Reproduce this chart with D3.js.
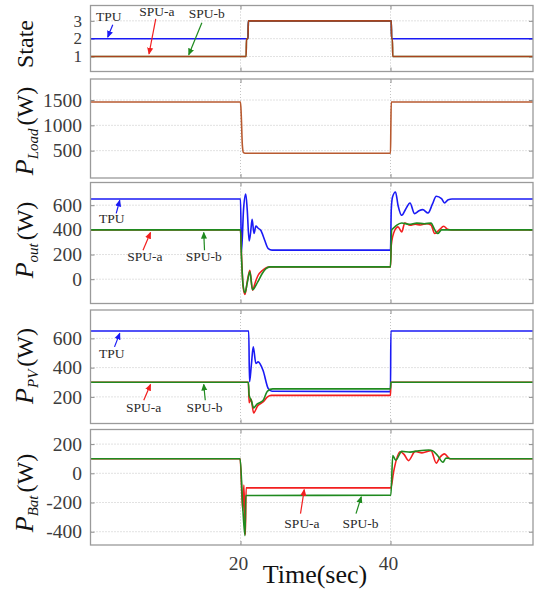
<!DOCTYPE html>
<html>
<head>
<meta charset="utf-8">
<script src="https://cdn.jsdelivr.net/npm/d3@7"></script>
<style>
  body { margin: 0; background: #fff; }
  svg { display: block; font-family: "Liberation Serif", "Times New Roman", serif; }
</style>
</head>
<body>
<svg id="chart" width="538" height="593"></svg>
<script>
// tick values
var timeTicks = [20, 40];
var stateTicks = [1, 2, 3];
var loadTicks = [500, 1000, 1500];
var outTicks = [0, 200, 400, 600];
var pvTicks = [200, 400, 600];
var batTicks = [-400, -200, 0, 200];

// series, [time (sec), value]
var stateTPU = [[0, 2], [21.0, 2], [21.05, 3], [40.1, 3], [40.15, 2], [59, 2]];
var stateSPUa = [[0, 1], [20.75, 1], [20.8, 2], [21.0, 2], [21.05, 3], [40.1, 3], [40.15, 2], [40.25, 2], [40.3, 1], [59, 1]];
var stateSPUb = [[0, 1], [20.75, 1], [20.8, 2], [21.0, 2], [21.05, 3], [40.1, 3], [40.15, 2], [40.25, 2], [40.3, 1], [59, 1]];

var pLoad = [[0, 1460], [20.0, 1460], [20.1, 1200], [20.25, 600], [20.4, 460], [20.6, 450], [40.0, 450], [40.05, 1000], [40.1, 1460], [59, 1460]];

var pOutTPU = [[0, 650], [20.0, 650], [20.13, 220], [20.4, 560], [20.7, 690], [20.9, 560], [21.15, 310], [21.35, 380],
  [21.55, 485], [21.8, 370], [22.05, 430], [22.35, 413], [22.7, 397], [23.2, 320], [23.7, 248], [24.2, 236], [40.0, 236],
  [40.1, 560], [40.27, 666], [40.67, 707], [41.0, 600], [41.5, 518], [42.0, 565], [42.6, 618], [43.2, 532], [43.8, 555],
  [44.3, 564], [45.0, 537], [45.6, 610], [46.1, 672], [46.8, 653], [47.2, 618], [47.7, 645], [48.2, 650], [59, 650]];
var pOutSPUa = [[0, 400], [20.0, 400], [20.13, 200], [20.35, -60], [20.6, -124], [20.9, -20], [21.25, 73], [21.6, -89],
  [22.0, -20], [22.35, 32], [22.9, 70], [23.5, 95], [24.0, 100], [40.0, 100], [40.1, 275], [40.57, 397], [41.0, 424],
  [41.5, 383], [41.9, 456], [42.6, 437], [43.3, 445], [44.0, 440], [44.8, 450], [45.4, 440], [45.9, 370], [46.5, 400],
  [47.1, 429], [47.6, 405], [48.2, 400], [59, 400]];
var pOutSPUb = [[0, 400], [20.0, 400], [20.13, 180], [20.35, -50], [20.6, -110], [20.9, -30], [21.25, 60], [21.6, -85],
  [22.3, -22], [22.9, 46], [23.4, 85], [23.9, 100], [40.0, 100], [40.15, 397], [40.5, 420], [40.8, 437], [41.5, 456],
  [42.5, 445], [43.5, 455], [44.5, 450], [45.4, 455], [45.9, 400], [46.3, 370], [46.8, 400], [59, 400]];

var pPvTPU = [[0, 650], [21.1, 650], [21.2, 303], [21.45, 420], [21.7, 542], [22.05, 428], [22.35, 439], [23.0, 382],
  [23.7, 257], [24.2, 238], [40.0, 236], [40.05, 650], [59, 650]];
var pPvSPUa = [[0, 300], [21.05, 300], [21.15, 160], [21.4, 185], [21.75, 90], [22.3, 140], [23.0, 165], [23.6, 200],
  [24.1, 210], [40.0, 210], [40.05, 300], [59, 300]];
var pPvSPUb = [[0, 300], [21.05, 300], [21.15, 212], [21.45, 175], [21.75, 125], [22.2, 150], [23.0, 175], [23.6, 240],
  [24.3, 255], [40.0, 255], [40.05, 300], [59, 300]];

var pBatSPUa = [[0, 100], [19.95, 100], [20.3, -255], [20.45, -80], [20.65, -420], [20.75, -100], [40.05, -100], [40.4, 7],
  [41.3, 148], [41.8, 130], [42.4, 87], [43.3, 150], [44.2, 140], [45.4, 155], [46.1, 70], [46.6, 110], [47.2, 133],
  [47.9, 100], [59, 100]];
var pBatSPUb = [[0, 100], [19.95, 100], [20.3, -232], [20.6, -427], [20.7, -152], [40.05, -150], [40.3, 122], [40.7, 90],
  [41.5, 150], [42.6, 145], [43.8, 155], [45.1, 160], [45.6, 155], [46.3, 120], [47.0, 76], [47.4, 105], [48.0, 100], [59, 100]];

var blue = "#1a1af5", red = "#f21f1f", green = "#1f8a1f", brown = "#b85a30";

var svg = d3.select("#chart");
var left = 90.5, right = 533;
var x = d3.scaleLinear().domain([0, 59]).range([left, right]);

var panels = [
  { top: 5.5, bottom: 71.5, domain: [0.16, 3.86], ticks: stateTicks, labelY: 44, tickSize: "17px",
    label: [{ t: "State" }],
    series: [{ d: stateTPU, c: blue }, { d: stateSPUb, c: green }, { d: stateSPUa, c: red, o: 0.65 }],
    notes: [
      { text: "TPU", at: [2.45, 3.0], from: [2.97, 2.78], to: [2.3, 2.09], c: blue },
      { text: "SPU-a", at: [8.85, 3.28], from: [8.7, 3.11], to: [7.8, 1.15], c: red },
      { text: "SPU-b", at: [15.5, 3.17], from: [14.85, 2.89], to: [13.1, 1.1], c: green }
    ] },
  { top: 79, bottom: 178, domain: [-40, 1915], ticks: loadTicks, labelY: 131,
    label: [{ t: "P", i: 1 }, { t: "Load", i: 1, sub: 1 }, { t: "(W)" }],
    series: [{ d: pLoad, c: brown }],
    notes: [] },
  { top: 182.5, bottom: 303.5, domain: [-197, 784], ticks: outTicks, labelY: 240,
    label: [{ t: "P", i: 1 }, { t: "out", i: 1, sub: 1 }, { t: "(W)" }],
    series: [{ d: pOutTPU, c: blue }, { d: pOutSPUa, c: red }, { d: pOutSPUb, c: green }],
    notes: [
      { text: "TPU", at: [2.85, 453], from: [3.43, 534], to: [3.9, 640], c: blue },
      { text: "SPU-a", at: [7.25, 146], from: [7.0, 235], to: [8.0, 378], c: red },
      { text: "SPU-b", at: [15.1, 146], from: [15.2, 235], to: [15.1, 378], c: green }
    ] },
  { top: 310, bottom: 423.5, domain: [18, 794], ticks: pvTicks, labelY: 366,
    label: [{ t: "P", i: 1 }, { t: "PV", i: 1, sub: 1 }, { t: "(W)" }],
    series: [{ d: pPvTPU, c: blue }, { d: pPvSPUa, c: red }, { d: pPvSPUb, c: green }],
    notes: [
      { text: "TPU", at: [2.85, 465], from: [3.2, 542], to: [3.9, 634], c: blue },
      { text: "SPU-a", at: [7.07, 95], from: [7.1, 177], to: [8.0, 285], c: red },
      { text: "SPU-b", at: [15.2, 95], from: [15.3, 177], to: [15.1, 285], c: green }
    ] },
  { top: 429.5, bottom: 545, domain: [-491, 300], ticks: batTicks, labelY: 493,
    label: [{ t: "P", i: 1 }, { t: "Bat", i: 1, sub: 1 }, { t: "(W)" }],
    series: [{ d: pBatSPUa, c: red }, { d: pBatSPUb, c: green }],
    notes: [
      { text: "SPU-a", at: [28.2, -374], from: [28.0, -276], to: [28.5, -112], c: red },
      { text: "SPU-b", at: [36.0, -374], from: [35.4, -276], to: [36.1, -161], c: green }
    ] }
];

// arrow heads, one per colour
var defs = svg.append("defs");
[blue, red, green].forEach(function(c, k) {
  defs.append("marker")
    .attr("id", "arrow" + k)
    .attr("viewBox", "0 0 8 8")
    .attr("refX", 7).attr("refY", 4)
    .attr("markerWidth", 7).attr("markerHeight", 7)
    .attr("markerUnits", "userSpaceOnUse")
    .attr("orient", "auto")
    .append("path")
    .attr("d", "M0,0.5 L8,4 L0,7.5 z")
    .attr("fill", c);
});
var arrowId = function(c) { return c === blue ? "arrow0" : c === red ? "arrow1" : "arrow2"; };

panels.forEach(function(p, n) {
  var y = d3.scaleLinear().domain(p.domain).range([p.bottom, p.top]);
  var g = svg.append("g");

  defs.append("clipPath").attr("id", "clip" + n)
    .append("rect")
    .attr("x", left).attr("y", p.top)
    .attr("width", right - left).attr("height", p.bottom - p.top);

  // grid
  g.selectAll(".hgrid").data(p.ticks).enter().append("line")
    .attr("x1", left).attr("x2", right)
    .attr("y1", d => y(d)).attr("y2", d => y(d))
    .attr("stroke", "#c4c4c4").attr("stroke-width", 1).attr("stroke-dasharray", "1,2");
  g.selectAll(".vgrid").data(timeTicks).enter().append("line")
    .attr("x1", d => x(d)).attr("x2", d => x(d))
    .attr("y1", p.top).attr("y2", p.bottom)
    .attr("stroke", "#c4c4c4").attr("stroke-width", 1).attr("stroke-dasharray", "1,2");

  // inner ticks on all four sides
  var yAxisL = d3.axisRight(y).tickValues(p.ticks).tickSize(4).tickFormat("");
  var yAxisR = d3.axisLeft(y).tickValues(p.ticks).tickSize(4).tickFormat("");
  var xAxisB = d3.axisTop(x).tickValues(timeTicks).tickSize(4).tickFormat("");
  var xAxisT = d3.axisBottom(x).tickValues(timeTicks).tickSize(4).tickFormat("");
  [[yAxisL, "translate(" + left + ",0)"], [yAxisR, "translate(" + right + ",0)"],
   [xAxisB, "translate(0," + p.bottom + ")"], [xAxisT, "translate(0," + p.top + ")"]].forEach(function(a) {
    var ax = g.append("g").attr("transform", a[1]).call(a[0]);
    ax.select(".domain").remove();
    ax.selectAll("line").attr("stroke", "#8c8c8c");
  });

  // tick labels
  g.selectAll(".ylab").data(p.ticks).enter().append("text")
    .attr("x", 82).attr("y", d => y(d)).attr("dy", "0.34em")
    .attr("text-anchor", "end")
    .attr("font-size", p.tickSize || "19.5px").attr("fill", "#3c3c3c")
    .text(d => d);

  // data lines
  var line = d3.line().x(d => x(d[0])).y(d => y(d[1])).curve(d3.curveMonotoneX);
  var lines = g.append("g").attr("clip-path", "url(#clip" + n + ")");
  p.series.forEach(function(s) {
    lines.append("path")
      .attr("d", line(s.d))
      .attr("fill", "none")
      .attr("stroke", s.c)
      .attr("stroke-opacity", s.o || 1)
      .attr("stroke-width", 1.6)
      .attr("stroke-linejoin", "round");
  });

  // frame
  g.append("rect")
    .attr("x", left).attr("y", p.top)
    .attr("width", right - left).attr("height", p.bottom - p.top)
    .attr("fill", "none").attr("stroke", "#9a9a9a").attr("stroke-width", 1.3);

  // annotations
  p.notes.forEach(function(a) {
    g.append("line")
      .attr("x1", x(a.from[0])).attr("y1", y(a.from[1]))
      .attr("x2", x(a.to[0])).attr("y2", y(a.to[1]))
      .attr("stroke", a.c).attr("stroke-width", 1.2)
      .attr("marker-end", "url(#" + arrowId(a.c) + ")");
    g.append("text")
      .attr("x", x(a.at[0])).attr("y", y(a.at[1]))
      .attr("text-anchor", "middle")
      .attr("font-size", "13.5px").attr("fill", "#2a2a2a")
      .text(a.text);
  });

  // y label, rotated
  var lab = svg.append("text")
    .attr("transform", "translate(33," + p.labelY + ") rotate(-90)")
    .attr("text-anchor", "middle")
    .attr("fill", "#111");
  p.label.forEach(function(part) {
    lab.append("tspan")
      .attr("font-size", part.sub ? "15px" : (part.i ? "26px" : "24px"))
      .attr("font-style", part.i ? "italic" : "normal")
      .attr("dy", part.sub ? 5 : (part.t === "(W)" && p.label.length > 1 ? -5 : 0))
      .attr("dx", part.t === "(W)" ? 3 : 0)
      .text(part.t);
  });
});

// bottom time axis labels
svg.selectAll(".xlab").data(timeTicks).enter().append("text")
  .attr("x", d => x(d) - 2).attr("y", 570)
  .attr("text-anchor", "middle")
  .attr("font-size", "19.5px").attr("fill", "#3c3c3c")
  .text(d => d);

svg.append("text")
  .attr("x", 315).attr("y", 583)
  .attr("text-anchor", "middle")
  .attr("font-size", "26px").attr("fill", "#111")
  .text("Time(sec)");
</script>
</body>
</html>
